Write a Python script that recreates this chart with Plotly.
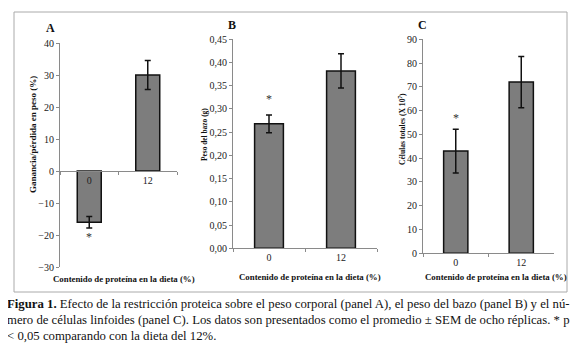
import plotly.graph_objects as go

# ---- data ----
categories = ["0", "12"]
a_vals = [-16.0, 30.0]
a_err = [1.8, 4.5]
b_vals = [0.268, 0.382]
b_err = [0.019, 0.037]
c_vals = [43.0, 72.0]
c_err = [9.2, 10.8]
sig_a = -20.5
sig_b = 0.321
sig_c = 57.0

W, H = 580, 344
OFF = 8  # page body margin shifts the figure
FONT = "Liberation Serif"


def px(x):
    return (x - OFF) / W


def py(y):
    return (H - (y - OFF)) / H


fig = go.Figure()

bar_color = "#7d7d7d"
common_bar = dict(marker=dict(color=bar_color, line=dict(color="#111111", width=1.5)),
                  showlegend=False, hoverinfo="skip")


def err(vals):
    return dict(type="data", array=vals, visible=True, color="#111111", thickness=1.5, width=3)


fig.add_trace(go.Bar(x=categories, y=a_vals, error_y=err(a_err), width=0.41,
                     xaxis="x", yaxis="y", **common_bar))
fig.add_trace(go.Bar(x=categories, y=b_vals, error_y=err(b_err), width=0.40,
                     xaxis="x2", yaxis="y2", **common_bar))
fig.add_trace(go.Bar(x=categories, y=c_vals, error_y=err(c_err), width=0.37,
                     xaxis="x3", yaxis="y3", **common_bar))

axis_col = "#8a8a8a"
tickfont = dict(family=FONT, size=10, color="#222222")

ydefs = [
    ([px(60), px(177)], [py(267), py(43)], [-30, 40], 10, None),
    ([px(233), px(377)], [py(248.3), py(39.3)], [0, 0.45], 0.05, ".2f"),
    ([px(423), px(554)], [py(253.3), py(39.3)], [0, 90], 10, None),
]
layout_axes = {}
for i, (xd, yd, rng, dt, fmt) in enumerate(ydefs):
    sfx = "" if i == 0 else str(i + 1)
    ya = dict(domain=yd, range=rng, dtick=dt, tick0=0, showline=True, linecolor=axis_col,
              linewidth=1, ticks="outside", ticklen=3, tickcolor=axis_col, showgrid=False,
              zeroline=False, tickfont=tickfont, anchor="x" + sfx, automargin=False)
    if fmt:
        ya["tickformat"] = fmt
    layout_axes["yaxis" + sfx] = ya
    xa = dict(domain=xd, range=[-0.5, 1.5], type="category", showline=True, linecolor=axis_col,
              linewidth=1, ticks="outside", ticklen=3, tickcolor=axis_col, tickson="boundaries",
              showgrid=False, zeroline=False, tickfont=tickfont, anchor="y" + sfx, automargin=False)
    if i == 0:
        # x axis of panel A crosses the y axis at zero
        pos = yd[0] + (0 - rng[0]) / (rng[1] - rng[0]) * (yd[1] - yd[0])
        xa["anchor"] = "free"
        xa["position"] = pos
    layout_axes["xaxis" + sfx] = xa

fig.update_layout(template="none", **layout_axes)

annotations = []


def note(text, x, y, size, angle=0, xanchor="center", color="#111111"):
    annotations.append(dict(text=text, x=px(x), y=py(y), xref="paper", yref="paper",
                            xanchor=xanchor, yanchor="middle", showarrow=False, textangle=angle,
                            font=dict(family=FONT, size=size, color=color)))


# panel letters
for txt, x, y in [("A", 50, 28), ("B", 232, 25), ("C", 422, 25)]:
    note("<b>%s</b>" % txt, x, y, 12)
# y titles
for txt, x, y, s in [("Ganancia/pérdida en peso (%)", 33, 135, 9),
                     ("Peso del bazo (g)", 204, 135, 7.4),
                     ("Células totales (X 10<sup>7</sup>)", 402, 129, 7.6)]:
    note("<b>%s</b>" % txt, x, y, s, angle=-90)
# x titles
for x, y in [(124, 279), (310, 277), (496, 277)]:
    note("<b>Contenido de proteína en la dieta (%)</b>", x, y, 8.8)
# significance marks
for ax, val in [("", sig_a), ("2", sig_b), ("3", sig_c)]:
    annotations.append(dict(text="*", x=0, y=val, xref="x" + ax, yref="y" + ax, showarrow=False,
                            xanchor="center", yanchor="middle",
                            font=dict(family=FONT, size=12, color="#333333")))
# caption
cap = [
    "<b>Figura 1.</b> Efecto de la restricción proteica sobre el peso corporal (panel A), el peso del bazo (panel B) y el nú-",
    "mero de células linfoides (panel C). Los datos son presentados como el promedio ± SEM de ocho réplicas. * p",
    "< 0,05 comparando con la dieta del 12%.",
]
for i, line in enumerate(cap):
    note(line, 5, 304 + 16 * i, 12.75, xanchor="left")

fig.update_layout(
    width=W, height=H, autosize=False,
    margin=dict(l=0, r=0, t=0, b=0, pad=0),
    paper_bgcolor="white", plot_bgcolor="rgba(0,0,0,0)",
    separators=",.",
    annotations=annotations,
    shapes=[dict(type="rect", xref="paper", yref="paper", x0=px(14), x1=px(567), y0=py(292), y1=py(12),
                 line=dict(color="#aaaaaa", width=1), layer="below")],
    font=dict(family=FONT),
)

fig.write_html("out.html")
